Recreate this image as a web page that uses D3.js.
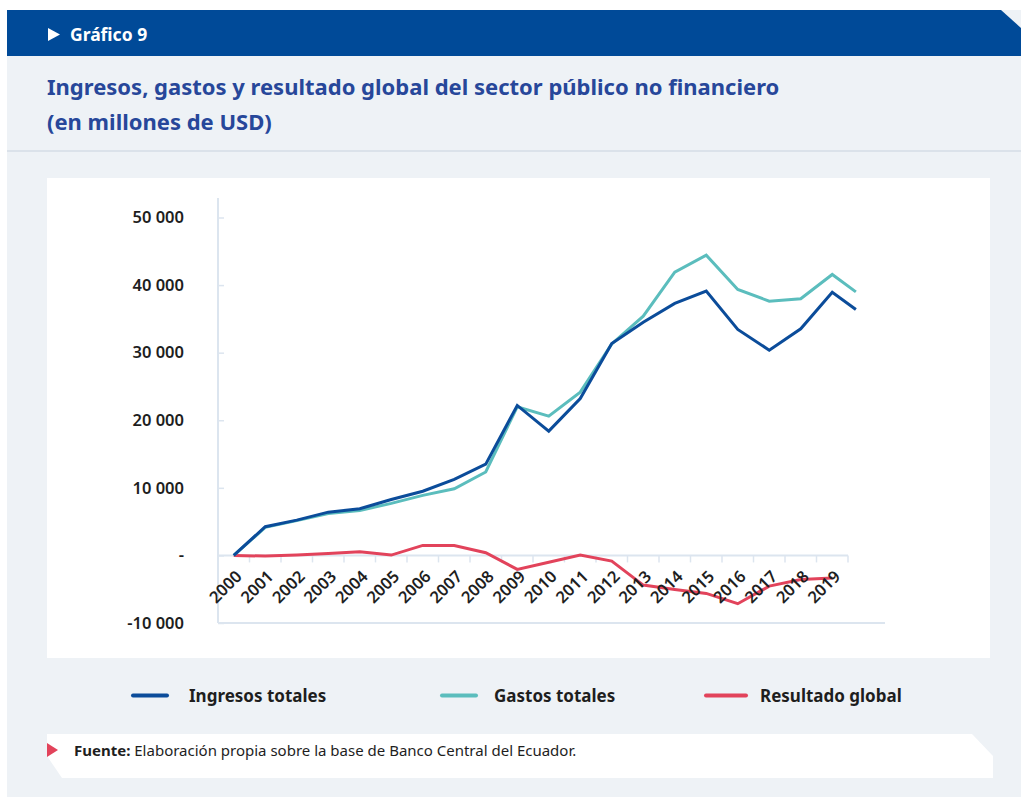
<!DOCTYPE html>
<html>
<head>
<meta charset="utf-8">
<script src="https://cdn.jsdelivr.net/npm/d3@7"></script>
<style>
  body { margin: 0; background: #ffffff; }
  svg { display: block; font-family: "Noto Sans", "Open Sans", sans-serif; }
</style>
</head>
<body>
<svg id="chart" width="1021" height="797"></svg>
<script>
// Years shown on the category axis
const yearLabels = ["2000","2001","2002","2003","2004","2005","2006","2007","2008","2009",
                    "2010","2011","2012","2013","2014","2015","2016","2017","2018","2019"];

// Periods for revenue / expenditure (last entry is a partial period)
const periodosFiscales = [2000,2001,2002,2003,2004,2005,2006,2007,2008,2009,
                          2010,2011,2012,2013,2014,2015,2016,2017,2018,2019,2019.75];
// Periods for the overall balance
const periodosResultado = [2000,2001,2002,2003,2004,2005,2006,2007,2008,2009,
                           2010,2011,2012,2013,2014,2015,2016,2017,2018,2019];

// Millions of USD
const ingresosTotales = [0, 4250, 5220, 6400, 6900, 8280, 9500, 11240, 13500, 22190,
                         18390, 23220, 31360, 34510, 37280, 39100, 33430, 30370, 33530, 38950, 36390];
const gastosTotales   = [0, 4150, 5150, 6200, 6650, 7700, 8880, 9860, 12350, 22000,
                         20600, 24160, 31300, 35400, 41910, 44430, 39350, 37620, 37970, 41570, 39000];
const resultadoGlobal = [0, -100, 50, 300, 550, 50, 1480, 1480, 400, -2070,
                         -1000, 50, -840, -4390, -5030, -5620, -7150, -4540, -3550, -3350];

const yTickValues = [-10000, 0, 10000, 20000, 30000, 40000, 50000];
const yTickLabels = ["-10 000", "-", "10 000", "20 000", "30 000", "40 000", "50 000"];

const seriesNames  = ["Ingresos totales", "Gastos totales", "Resultado global"];
const seriesColors = ["#0b4c9a", "#5bbdbd", "#e2435b"];

const svg = d3.select("#chart");

// ---- page frame ----
svg.append("rect").attr("x", 7).attr("y", 10).attr("width", 1014).attr("height", 787).attr("fill", "#eef2f6");
svg.append("path")
  .attr("d", "M7,10 L1001,10 L1021,28 L1021,56 L7,56 Z")
  .attr("fill", "#004a98");
svg.append("path").attr("d", "M48,28 L60,34.5 L48,41 Z").attr("fill", "#ffffff");
svg.append("text").attr("x", 70).attr("y", 41)
  .attr("fill", "#ffffff").attr("font-size", 17.5).attr("font-weight", 700)
  .text("Gráfico 9");

const title = svg.append("text").attr("fill", "#27479a").attr("font-size", 22).attr("font-weight", 700);
title.append("tspan").attr("x", 47).attr("y", 95).text("Ingresos, gastos y resultado global del sector público no financiero");
title.append("tspan").attr("x", 47).attr("y", 130).text("(en millones de USD)");

svg.append("rect").attr("x", 7).attr("y", 150).attr("width", 1014).attr("height", 2).attr("fill", "#dbe2ea");

// chart panel
svg.append("rect").attr("x", 47).attr("y", 178).attr("width", 943).attr("height", 480).attr("fill", "#ffffff");

// ---- scales ----
const x = d3.scaleLinear().domain([1999.5, 2019.5]).range([218, 848]);
const y = d3.scaleLinear().domain([-10000, 50000]).range([623, 217.5]);

const axisColor = "#dce5ef";

// y axis
const yAxis = svg.append("g").attr("transform", `translate(${x(1999.5)},0)`)
  .call(d3.axisLeft(y).tickValues(yTickValues).tickSize(-6).tickPadding(34)
        .tickFormat((d, i) => yTickLabels[i]));
yAxis.select(".domain").remove();
yAxis.selectAll(".tick line").attr("stroke", axisColor).attr("stroke-width", 1.5);
yAxis.selectAll(".tick text").attr("fill", "#1e1e1e").attr("font-size", 16.5)
  .attr("font-weight", 600).attr("font-family", "\"Noto Sans\", sans-serif");
svg.append("line").attr("x1", x(1999.5)).attr("x2", x(1999.5))
  .attr("y1", 198).attr("y2", y(-10000))
  .attr("stroke", axisColor).attr("stroke-width", 2);

// bottom rule at the minimum of the value axis
svg.append("line").attr("x1", x(1999.5)).attr("x2", 885)
  .attr("y1", y(-10000)).attr("y2", y(-10000))
  .attr("stroke", axisColor).attr("stroke-width", 2);

// category axis on the zero line
const boundaries = d3.range(yearLabels.length + 1).map(i => 1999.5 + i);
svg.append("line").attr("x1", x(1999.5)).attr("x2", x(2019.5))
  .attr("y1", y(0)).attr("y2", y(0))
  .attr("stroke", axisColor).attr("stroke-width", 2);
svg.append("g").selectAll("line").data(boundaries.slice(1)).join("line")
  .attr("x1", d => x(d)).attr("x2", d => x(d))
  .attr("y1", y(0)).attr("y2", y(0) + 7)
  .attr("stroke", axisColor).attr("stroke-width", 1.5);

// ---- lines ----
const line = d3.line().x(d => x(d[0])).y(d => y(d[1]));
const lineData = [
  d3.zip(periodosResultado, resultadoGlobal),
  d3.zip(periodosFiscales, gastosTotales),
  d3.zip(periodosFiscales, ingresosTotales)
];
const lineColors = [seriesColors[2], seriesColors[1], seriesColors[0]];
svg.append("g").selectAll("path").data(lineData).join("path")
  .attr("d", line)
  .attr("fill", "none")
  .attr("stroke", (d, i) => lineColors[i])
  .attr("stroke-width", 3)
  .attr("stroke-linejoin", "miter");

// year labels, rotated
svg.append("g").selectAll("text").data(yearLabels).join("text")
  .attr("transform", (d, i) => `translate(${x(+d) + 5},${y(0) + 18}) rotate(-45)`)
  .attr("text-anchor", "end")
  .attr("dy", "0.35em")
  .attr("fill", "#1e1e1e").attr("font-size", 16.5).attr("font-weight", 600)
  .text(d => d);

// ---- legend ----
const legendX = [133, 442, 706];
const legendTextX = [189, 494, 760];
const legendLen = [34, 34, 40];
const legend = svg.append("g");
seriesNames.forEach((name, i) => {
  legend.append("line")
    .attr("x1", legendX[i]).attr("x2", legendX[i] + legendLen[i])
    .attr("y1", 695.5).attr("y2", 695.5)
    .attr("stroke", seriesColors[i]).attr("stroke-width", 4).attr("stroke-linecap", "round");
  legend.append("text").attr("x", legendTextX[i]).attr("y", 701.5)
    .attr("fill", "#1e1e1e").attr("font-size", 17).attr("font-weight", 700)
    .text(name);
});

// ---- source note ----
svg.append("path")
  .attr("d", "M47,734 L972,734 L993,756 L993,778 L62,778 L47,756 Z")
  .attr("fill", "#ffffff");
svg.append("path").attr("d", "M47,743 L58,750 L47,757 Z").attr("fill", "#e2435b");
const src = svg.append("text").attr("x", 74).attr("y", 755.5).attr("font-size", 15).attr("fill", "#1e1e1e");
src.append("tspan").attr("font-weight", 700).text("Fuente:");
src.append("tspan").text(" Elaboración propia sobre la base de Banco Central del Ecuador.");
</script>
</body>
</html>
